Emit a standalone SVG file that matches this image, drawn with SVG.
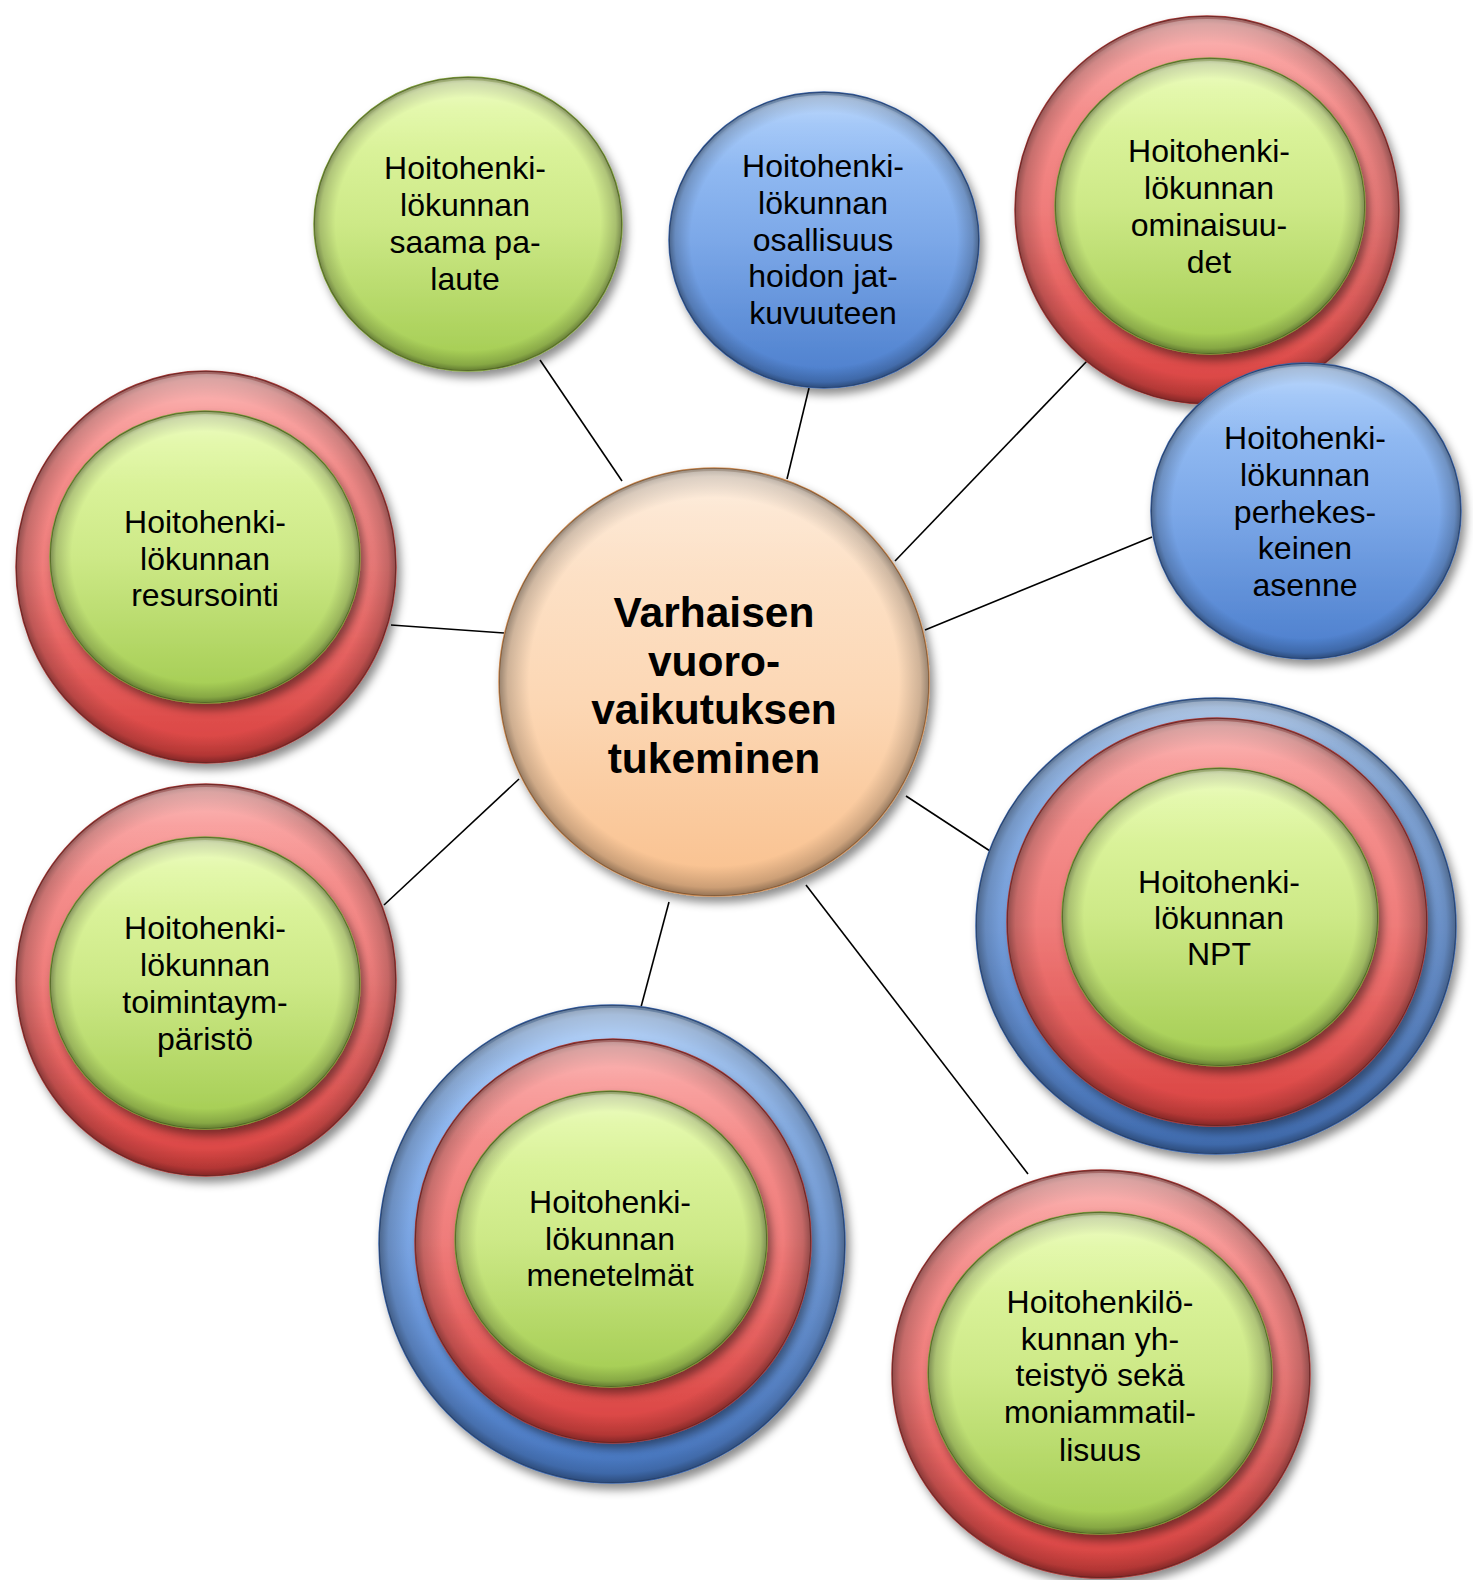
<svg xmlns="http://www.w3.org/2000/svg" width="1473" height="1580" viewBox="0 0 1473 1580">
<defs>
<linearGradient id="gGreen" x1="0" y1="0" x2="0" y2="1"><stop offset="0" stop-color="#e6fbab"/><stop offset="0.5" stop-color="#cde987"/><stop offset="1" stop-color="#a2cb50"/></linearGradient>
<linearGradient id="gRed" x1="0" y1="0" x2="0" y2="1"><stop offset="0" stop-color="#fa9f9d"/><stop offset="0.5" stop-color="#ef7c7a"/><stop offset="1" stop-color="#d9403e"/></linearGradient>
<linearGradient id="gBlue" x1="0" y1="0" x2="0" y2="1"><stop offset="0" stop-color="#a4cafb"/><stop offset="0.5" stop-color="#7ca8e8"/><stop offset="1" stop-color="#4a7dcc"/></linearGradient>
<linearGradient id="gOrange" x1="0" y1="0" x2="0" y2="1"><stop offset="0" stop-color="#fde8d4"/><stop offset="0.55" stop-color="#fcd7b4"/><stop offset="1" stop-color="#f9c08d"/></linearGradient>
<radialGradient id="bevel" cx="0.5" cy="0.5" r="0.5"><stop offset="0.86" stop-color="#000" stop-opacity="0"/><stop offset="0.96" stop-color="#000" stop-opacity="0.18"/><stop offset="1" stop-color="#000" stop-opacity="0.4"/></radialGradient>
<linearGradient id="gloss" x1="0" y1="0" x2="0" y2="1"><stop offset="0" stop-color="#fff" stop-opacity="0.3"/><stop offset="0.1" stop-color="#fff" stop-opacity="0.1"/><stop offset="0.25" stop-color="#fff" stop-opacity="0"/></linearGradient>
<filter id="shadow" x="-20%" y="-20%" width="140%" height="140%"><feDropShadow dx="4" dy="6" stdDeviation="5" flood-color="#000" flood-opacity="0.45"/></filter>
</defs>
<style>
.green{fill:url(#gGreen);stroke:#7f9f3a;stroke-width:1.5}
.red{fill:url(#gRed);stroke:#a83a38;stroke-width:1.5}
.blue{fill:url(#gBlue);stroke:#3a64a8;stroke-width:1.5}
.orange{fill:url(#gOrange);stroke:#d08e55;stroke-width:1.5}
.bev{fill:url(#bevel)}
.gl{fill:url(#gloss)}
.sh{filter:url(#shadow)}
.conn line{stroke:#000;stroke-width:1.6}
text{font-family:"Liberation Sans",Arial,sans-serif;font-size:32px;fill:#000;text-anchor:middle}
.big{font-size:42.5px;font-weight:bold}
</style>
<rect width="1473" height="1580" fill="#fff"/>
<g id="connectors" class="conn">
<line x1="540" y1="360" x2="622" y2="481"/>
<line x1="809" y1="388" x2="787" y2="479"/>
<line x1="1088" y1="360" x2="895" y2="561"/>
<line x1="1152" y1="537" x2="925" y2="630"/>
<line x1="391" y1="625" x2="504" y2="633"/>
<line x1="519" y1="779" x2="384" y2="905"/>
<line x1="669" y1="902" x2="641" y2="1007"/>
<line x1="806" y1="885" x2="1028" y2="1174"/>
<line x1="906" y1="796" x2="990" y2="851"/>
</g>
<g id="center">
<ellipse class="orange sh" cx="714" cy="682" rx="215" ry="214"/>
<ellipse class="bev" cx="714" cy="682" rx="215" ry="214"/>
<ellipse class="gl" cx="714" cy="682" rx="212" ry="211"/>
<text class="big" x="714"><tspan x="714" y="627">Varhaisen</tspan><tspan x="714" y="676">vuoro-</tspan><tspan x="714" y="724">vaikutuksen</tspan><tspan x="714" y="773">tukeminen</tspan></text>
</g>
<g id="palaute">
<ellipse class="green sh" cx="468" cy="224" rx="154" ry="147"/>
<ellipse class="bev" cx="468" cy="224" rx="154" ry="147"/>
<ellipse class="gl" cx="468" cy="224" rx="151" ry="144"/>
<text><tspan x="465" y="179">Hoitohenki-</tspan><tspan x="465" y="216">lökunnan</tspan><tspan x="465" y="253">saama pa-</tspan><tspan x="465" y="290">laute</tspan></text>
</g>
<g id="osallisuus">
<ellipse class="blue sh" cx="824" cy="240" rx="155" ry="148"/>
<ellipse class="bev" cx="824" cy="240" rx="155" ry="148"/>
<ellipse class="gl" cx="824" cy="240" rx="152" ry="145"/>
<text><tspan x="823" y="177">Hoitohenki-</tspan><tspan x="823" y="214">lökunnan</tspan><tspan x="823" y="251">osallisuus</tspan><tspan x="823" y="287">hoidon jat-</tspan><tspan x="823" y="324">kuvuuteen</tspan></text>
</g>
<g id="ominaisuudet">
<ellipse class="red sh" cx="1207" cy="210" rx="192" ry="194"/>
<ellipse class="bev" cx="1207" cy="210" rx="192" ry="194"/>
<ellipse class="gl" cx="1207" cy="210" rx="189" ry="191"/>
<ellipse class="green sh" cx="1210" cy="206" rx="155" ry="148"/>
<ellipse class="bev" cx="1210" cy="206" rx="155" ry="148"/>
<ellipse class="gl" cx="1210" cy="206" rx="152" ry="145"/>
<text><tspan x="1209" y="162">Hoitohenki-</tspan><tspan x="1209" y="199">lökunnan</tspan><tspan x="1209" y="236">ominaisuu-</tspan><tspan x="1209" y="273">det</tspan></text>
</g>
<g id="perhekeskeinen">
<ellipse class="blue sh" cx="1306" cy="511" rx="155" ry="148"/>
<ellipse class="bev" cx="1306" cy="511" rx="155" ry="148"/>
<ellipse class="gl" cx="1306" cy="511" rx="152" ry="145"/>
<text><tspan x="1305" y="449">Hoitohenki-</tspan><tspan x="1305" y="486">lökunnan</tspan><tspan x="1305" y="523">perhekes-</tspan><tspan x="1305" y="559">keinen</tspan><tspan x="1305" y="596">asenne</tspan></text>
</g>
<g id="resursointi">
<ellipse class="red sh" cx="206" cy="567" rx="190" ry="196"/>
<ellipse class="bev" cx="206" cy="567" rx="190" ry="196"/>
<ellipse class="gl" cx="206" cy="567" rx="187" ry="193"/>
<ellipse class="green sh" cx="205" cy="557" rx="155" ry="146"/>
<ellipse class="bev" cx="205" cy="557" rx="155" ry="146"/>
<ellipse class="gl" cx="205" cy="557" rx="152" ry="143"/>
<text><tspan x="205" y="533">Hoitohenki-</tspan><tspan x="205" y="570">lökunnan</tspan><tspan x="205" y="606">resursointi</tspan></text>
</g>
<g id="toimintaymparisto">
<ellipse class="red sh" cx="206" cy="980" rx="190" ry="196"/>
<ellipse class="bev" cx="206" cy="980" rx="190" ry="196"/>
<ellipse class="gl" cx="206" cy="980" rx="187" ry="193"/>
<ellipse class="green sh" cx="205" cy="983" rx="155" ry="146"/>
<ellipse class="bev" cx="205" cy="983" rx="155" ry="146"/>
<ellipse class="gl" cx="205" cy="983" rx="152" ry="143"/>
<text><tspan x="205" y="939">Hoitohenki-</tspan><tspan x="205" y="976">lökunnan</tspan><tspan x="205" y="1013">toimintaym-</tspan><tspan x="205" y="1050">päristö</tspan></text>
</g>
<g id="menetelmat">
<ellipse class="blue sh" cx="612" cy="1244" rx="233" ry="239"/>
<ellipse class="bev" cx="612" cy="1244" rx="233" ry="239"/>
<ellipse class="gl" cx="612" cy="1244" rx="230" ry="236"/>
<ellipse class="red sh" cx="613" cy="1241" rx="198" ry="202"/>
<ellipse class="bev" cx="613" cy="1241" rx="198" ry="202"/>
<ellipse class="gl" cx="613" cy="1241" rx="195" ry="199"/>
<ellipse class="green sh" cx="611" cy="1239" rx="156" ry="148"/>
<ellipse class="bev" cx="611" cy="1239" rx="156" ry="148"/>
<ellipse class="gl" cx="611" cy="1239" rx="153" ry="145"/>
<text><tspan x="610" y="1213">Hoitohenki-</tspan><tspan x="610" y="1250">lökunnan</tspan><tspan x="610" y="1286">menetelmät</tspan></text>
</g>
<g id="npt">
<ellipse class="blue sh" cx="1216" cy="926" rx="240" ry="228"/>
<ellipse class="bev" cx="1216" cy="926" rx="240" ry="228"/>
<ellipse class="gl" cx="1216" cy="926" rx="237" ry="225"/>
<ellipse class="red sh" cx="1217" cy="922" rx="210" ry="204"/>
<ellipse class="bev" cx="1217" cy="922" rx="210" ry="204"/>
<ellipse class="gl" cx="1217" cy="922" rx="207" ry="201"/>
<ellipse class="green sh" cx="1220" cy="917" rx="158" ry="149"/>
<ellipse class="bev" cx="1220" cy="917" rx="158" ry="149"/>
<ellipse class="gl" cx="1220" cy="917" rx="155" ry="146"/>
<text><tspan x="1219" y="893">Hoitohenki-</tspan><tspan x="1219" y="929">lökunnan</tspan><tspan x="1219" y="965">NPT</tspan></text>
</g>
<g id="yhteistyo">
<ellipse class="red sh" cx="1101" cy="1374" rx="209" ry="204"/>
<ellipse class="bev" cx="1101" cy="1374" rx="209" ry="204"/>
<ellipse class="gl" cx="1101" cy="1374" rx="206" ry="201"/>
<ellipse class="green sh" cx="1100" cy="1373" rx="172" ry="161"/>
<ellipse class="bev" cx="1100" cy="1373" rx="172" ry="161"/>
<ellipse class="gl" cx="1100" cy="1373" rx="169" ry="158"/>
<text><tspan x="1100" y="1313">Hoitohenkilö-</tspan><tspan x="1100" y="1350">kunnan yh-</tspan><tspan x="1100" y="1386">teistyö sekä</tspan><tspan x="1100" y="1423">moniammatil-</tspan><tspan x="1100" y="1461">lisuus</tspan></text>
</g>
</svg>
